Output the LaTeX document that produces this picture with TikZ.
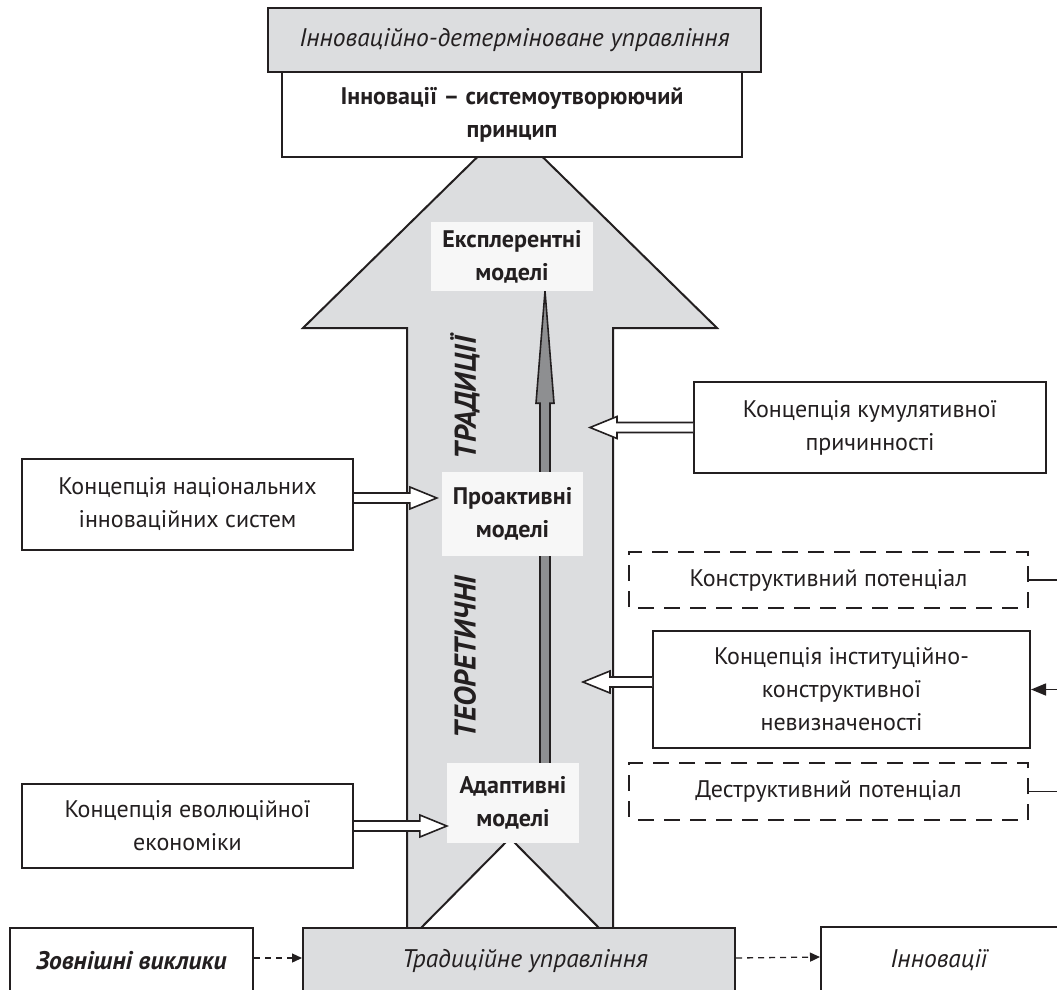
\documentclass[tikz,border=0pt]{standalone}
\usepackage{fontspec}
\setmainfont{PT Sans}
\usetikzlibrary{arrows.meta,calc}
\definecolor{ink}{HTML}{231F20}
\definecolor{lgray}{HTML}{DCDDDF}
\definecolor{mgray}{HTML}{F7F7F7}
\definecolor{dgray}{HTML}{8E8F91}
\newcommand\fsz{\fontsize{24}{33}\selectfont}
\newcommand\isz{\fontsize{25.5}{33}\selectfont}
\newcommand\hollowR[2]{\draw[harrow] let \p1=(#1), \p2=(#2) in (\x1,{\y1+5pt}) -- ({\x2-27pt},{\y1+5pt}) -- ({\x2-27pt},{\y1+11pt}) -- (\x2,\y1) -- ({\x2-27pt},{\y1-11pt}) -- ({\x2-27pt},{\y1-5pt}) -- (\x1,{\y1-5pt});}
\newcommand\hollowL[2]{\draw[harrow] let \p1=(#1), \p2=(#2) in (\x1,{\y1+5pt}) -- ({\x2+27pt},{\y1+5pt}) -- ({\x2+27pt},{\y1+11pt}) -- (\x2,\y1) -- ({\x2+27pt},{\y1-11pt}) -- ({\x2+27pt},{\y1-5pt}) -- (\x1,{\y1-5pt});}
\tikzset{
  box/.style={draw=ink, line width=2pt, fill=white, align=center, inner sep=0pt, font=\fsz, text=ink},
  gbox/.style={box, fill=lgray},
  dbox/.style={box, dash pattern=on 16pt off 10pt, dash phase=17pt},
  mbox/.style={fill=mgray, align=center, inner sep=0pt, font=\fsz\bfseries, text=ink},
  rot/.style={rotate=90, font=\fontsize{30}{34}\selectfont\bfseries\itshape, text=ink, inner sep=0pt},
  harrow/.style={draw=ink, line width=1.6pt, fill=white, line join=miter},
  iarrow/.style={draw=ink, line width=1.6pt, fill=dgray, line join=miter},
  bigarrow/.style={draw=ink, line width=2pt, fill=lgray, line join=miter},
  thin/.style={draw=ink, line width=1.5pt},
  dashar/.style={draw=ink, line width=1.3pt, dash pattern=on 6pt off 5pt, -{Triangle[length=10pt,width=9pt]}},
}
\begin{document}
\begin{tikzpicture}[x=1pt,y=-1pt]
\useasboundingbox (0,0) rectangle (1057,990);
\clip (0,0) rectangle (1057,990);
\fill[white] (0,0) rectangle (1057,990);
% big arrow
\draw[bigarrow] (407,1010) -- (407,328) -- (303,328) -- (510,125) -- (717,328) -- (613,328) -- (613,1010) -- cycle;
\draw[draw=ink, line width=2pt, fill=white, line join=miter] (414,935) -- (510,838) -- (606,935) -- cycle;
% model boxes
\node[mbox, minimum width=162pt, minimum height=69pt] (exp) at (512,256.5) {Експлерентні\\моделі};
\node[mbox, minimum width=132pt, minimum height=80pt] (ada) at (513,803) {Адаптивні\\моделі};
% inner arrow
\coordinate (ia1) at ([xshift=32pt]ada.north);
\coordinate (ia2) at ([xshift=33pt]exp.south);
\draw[iarrow] let \p1=(ia1), \p2=(ia2) in ({\x1-5pt},\y1) -- ({\x1-5pt},{\y2-112pt}) -- ({\x1-9pt},{\y2-112pt}) -- (\x1,\y2) -- ({\x1+9pt},{\y2-112pt}) -- ({\x1+5pt},{\y2-112pt}) -- ({\x1+5pt},\y1);
\node[mbox, minimum width=141pt, minimum height=84pt] (pro) at (512.5,514) {Проактивні\\моделі};
% rotated labels
\node[rot] (trad1) at (465,398) {ТРАДИЦІЇ};
\node[rot] (teor) at (465,657) {ТЕОРЕТИЧНІ};
% top boxes
\node[gbox, minimum width=493pt, minimum height=64pt] (tg) at (514.5,40) {\isz\itshape Інноваційно-детерміноване управління};
\node[box, minimum width=460pt, minimum height=85pt] (tw) at (512,114.5) {\bfseries Інновації – системоутворюючий\\\bfseries принцип};
% left boxes
\node[box, minimum width=331pt, minimum height=91pt] (nat) at (187.5,504.5) {Концепція національних\\інноваційних систем};
\node[box, minimum width=331pt, minimum height=84pt] (evo) at (187.5,826) {Концепція еволюційної\\економіки};
% right boxes
\node[box, minimum width=352pt, minimum height=91pt] (cum) at (870,427.5) {Концепція кумулятивної\\причинності};
\node[dbox, minimum width=399pt, minimum height=56pt] (kp) at (828.5,580) {Конструктивний потенціал};
\node[box, minimum width=377pt, minimum height=117pt] (inst) at (841.5,689.5) {Концепція інституційно-\\конструктивної\\невизначеності};
\node[dbox, minimum width=399pt, minimum height=57pt] (dp) at (828.5,791.5) {Деструктивний потенціал};
% hollow arrows
\coordinate (cumtip) at (590,428);
\coordinate (insttip) at (583,682);
\hollowR{[yshift=6.5pt]nat.east}{[xshift=-5pt]pro.west}
\hollowR{evo.east}{ada.west}
\hollowL{cum.west}{cumtip}
\hollowL{[yshift=7.5pt]inst.west}{insttip}
% right-side lines
\coordinate (kr) at (1075,580);
\coordinate (dr) at (1075,791.5);
\coordinate (ir) at (1075,689.5);
\draw[thin] (kp.east) -- (kr);
\draw[thin] (dp.east) -- (dr);
\draw[thin, -{Triangle[length=15pt,width=12pt]}] (ir) -- (inst.east);
% bottom row
\node[box, minimum width=243pt, minimum height=66pt] (ext) at (131.5,961) {\isz\bfseries\itshape Зовнішні виклики};
\node[gbox, minimum width=432pt, minimum height=66pt] (tm) at (519,961) {\isz\itshape\hspace*{12pt}Традиційне управління};
\node[box, minimum width=244pt, minimum height=66pt] (inn) at (943,960) {\isz\itshape Інновації\hspace*{8pt}};
\draw[dashar] ([yshift=3pt]ext.east) -- ([yshift=3pt]tm.west);
\draw[dashar] ([yshift=3pt]tm.east) -- ([yshift=3pt]inn.west);
\end{tikzpicture}
\end{document}
